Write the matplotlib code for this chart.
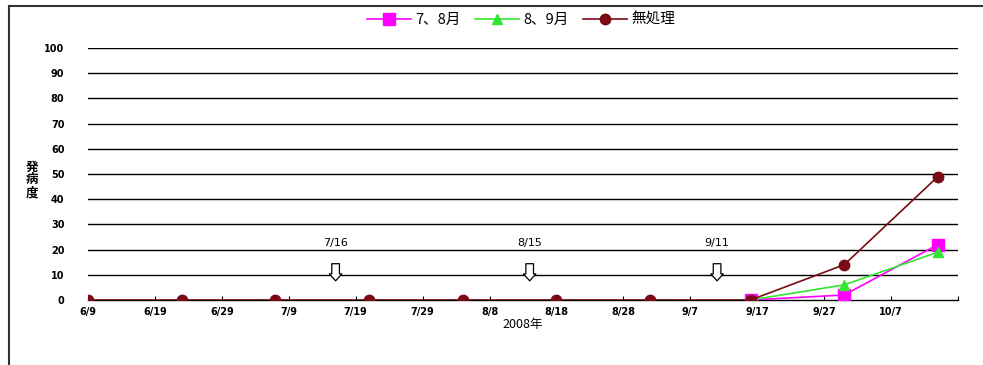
import datetime as dt
import matplotlib
matplotlib.use("Agg")
import matplotlib.pyplot as plt
from matplotlib.lines import Line2D

plt.rcParams['font.family'] = ['Noto Sans CJK JP', 'DejaVu Sans']

nan = float("nan")

# 調査日と発病度
dates = ["2008-06-09", "2008-06-23", "2008-07-07", "2008-07-21", "2008-08-04",
         "2008-08-18", "2008-09-01", "2008-09-16", "2008-09-30", "2008-10-14"]
series_names = ["7、8月", "8、9月", "無処理"]
jul_aug = [nan, nan, nan, nan, nan, nan, nan, 0, 2, 22]
aug_sep = [nan, nan, nan, nan, nan, nan, nan, 0, 6, 19]
untreated = [0, 0, 0, 0, 0, 0, 0, 0, 14, 49]

# 散布日（矢印）
spray_pos = ["2008-07-16", "2008-08-14", "2008-09-11"]
spray_labels = ["7/16", "8/15", "9/11"]

tick_dates = ["2008-06-09", "2008-06-19", "2008-06-29", "2008-07-09", "2008-07-19",
              "2008-07-29", "2008-08-08", "2008-08-18", "2008-08-28", "2008-09-07",
              "2008-09-17", "2008-09-27", "2008-10-07", "2008-10-17"]
tick_labels = ["6/9", "6/19", "6/29", "7/9", "7/19", "7/29", "8/8", "8/18",
               "8/28", "9/7", "9/17", "9/27", "10/7", ""]
y_ticks = [0, 10, 20, 30, 40, 50, 60, 70, 80, 90, 100]


def to_dt(s):
    return dt.datetime.strptime(s, "%Y-%m-%d")


x = [to_dt(d) for d in dates]

fig = plt.figure(figsize=(9.83, 3.65), dpi=100)
ax = fig.add_axes([88 / 983, 65 / 365, 870 / 983, 252 / 365])

for yv in y_ticks[1:]:
    ax.axhline(yv, color="black", lw=1.0, zorder=1)

ax.plot(x, jul_aug, color="#FF00FF", marker="s", ms=8, lw=1.2, zorder=3,
        label=series_names[0])
ax.plot(x, aug_sep, color="#33E633", marker="^", ms=7, lw=1.2, zorder=4,
        label=series_names[1])
ax.plot(x, untreated, color="#7A0A14", marker="o", ms=7.5, lw=1.2, zorder=5,
        label=series_names[2])

for pos, lab in zip(spray_pos, spray_labels):
    d = to_dt(pos)
    ax.annotate("", xy=(d, 6.5), xytext=(d, 15.5),
                arrowprops=dict(arrowstyle="simple,head_length=0.5,head_width=0.9,tail_width=0.55",
                                fc="white", ec="black", lw=0.9), zorder=6)
    ax.text(d, 20.8, lab, ha="center", va="bottom", fontsize=8,
            family="DejaVu Sans", zorder=6)

ax.set_xlim(to_dt("2008-06-09"), to_dt("2008-10-17"))
ax.set_ylim(0, 100)
ax.set_xticks([to_dt(t) for t in tick_dates])
ax.set_xticklabels(tick_labels, fontsize=7, fontweight="bold", family="DejaVu Sans")
ax.set_yticks(y_ticks)
ax.set_yticklabels([str(v) for v in y_ticks], fontsize=7, fontweight="bold",
                   family="DejaVu Sans")
ax.tick_params(axis="y", length=0, pad=17)
ax.tick_params(axis="x", direction="in", length=3, width=0.8, pad=5)

for side in ["left", "right", "top"]:
    ax.spines[side].set_visible(False)
ax.spines["bottom"].set_linewidth(1.0)
ax.spines["bottom"].set_zorder(2)
ax.set_xlabel("2008年", fontsize=9, labelpad=1)

fig.text(32 / 983, 1 - 180 / 365, "発\n病\n度", fontsize=9, fontweight="bold",
         ha="center", va="center", linespacing=1.0)

handles = [
    Line2D([], [], color="#FF00FF", marker="s", ms=8, lw=1.2),
    Line2D([], [], color="#33E633", marker="^", ms=7, lw=1.2),
    Line2D([], [], color="#7A0A14", marker="o", ms=7.5, lw=1.2),
]
fig.legend(handles, series_names, loc="center", bbox_to_anchor=(521 / 983, 1 - 20 / 365),
           ncol=3, frameon=False, fontsize=10.5, handlelength=3.0, columnspacing=1.0,
           handletextpad=0.3)

# 外枠
fig.add_artist(Line2D([9 / 983, 1.0], [1 - 6 / 365, 1 - 6 / 365], color="#333333",
                      lw=1.5, transform=fig.transFigure))
fig.add_artist(Line2D([9 / 983, 9 / 983], [0, 1 - 6 / 365], color="#333333",
                      lw=1.5, transform=fig.transFigure))

fig.savefig("out.png", dpi=100)
